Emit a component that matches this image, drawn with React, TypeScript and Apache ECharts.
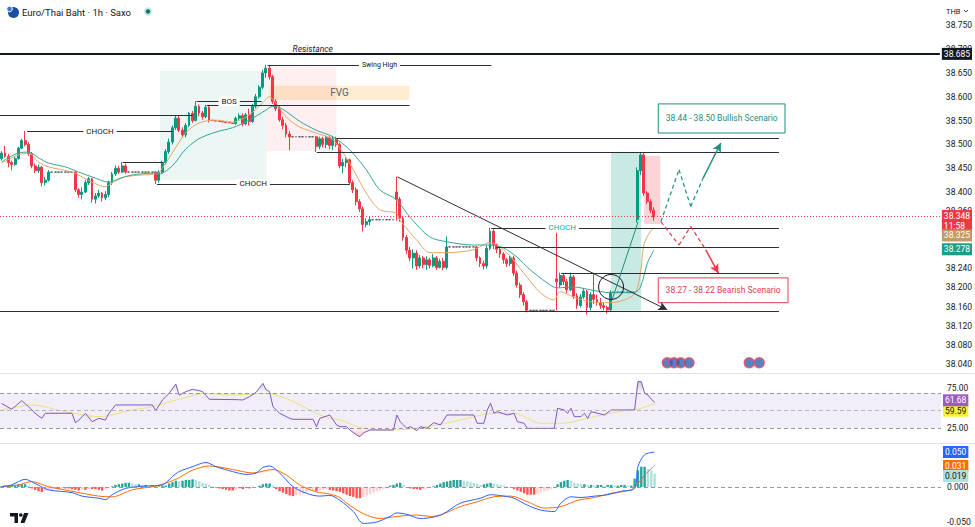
import React, { useEffect, useRef } from "react";
import * as echarts from "echarts";

const FONT = "Roboto, 'Noto Sans', sans-serif";
const SLOTS = 281;

// [slot, open, close, low, high]
const candles: number[][] = [
  [0, 38.470, 38.482, 38.466, 38.486], [1, 38.482, 38.475, 38.472, 38.497], [2, 38.475, 38.462, 38.452, 38.480],
  [3, 38.462, 38.458, 38.446, 38.466], [4, 38.458, 38.470, 38.455, 38.474], [5, 38.470, 38.492, 38.468, 38.495],
  [6, 38.492, 38.508, 38.490, 38.512], [7, 38.508, 38.500, 38.496, 38.528], [8, 38.500, 38.480, 38.476, 38.505],
  [9, 38.480, 38.455, 38.450, 38.484], [10, 38.455, 38.445, 38.440, 38.460], [11, 38.445, 38.452, 38.440, 38.458],
  [12, 38.452, 38.420, 38.412, 38.455], [13, 38.420, 38.425, 38.414, 38.432], [14, 38.425, 38.442, 38.422, 38.446],
  [15, 38.442, 38.442, 38.442, 38.442], [16, 38.442, 38.442, 38.442, 38.442], [17, 38.442, 38.442, 38.442, 38.442],
  [18, 38.442, 38.442, 38.442, 38.442], [19, 38.442, 38.442, 38.442, 38.442], [20, 38.442, 38.442, 38.442, 38.442],
  [21, 38.442, 38.442, 38.442, 38.442], [22, 38.442, 38.405, 38.400, 38.444], [23, 38.405, 38.395, 38.388, 38.408],
  [24, 38.395, 38.400, 38.385, 38.410], [25, 38.400, 38.420, 38.398, 38.425], [26, 38.420, 38.428, 38.415, 38.432],
  [27, 38.428, 38.385, 38.378, 38.430], [28, 38.385, 38.392, 38.376, 38.398], [29, 38.392, 38.398, 38.388, 38.405],
  [30, 38.398, 38.388, 38.380, 38.400], [31, 38.388, 38.395, 38.383, 38.402], [32, 38.395, 38.420, 38.390, 38.424],
  [33, 38.420, 38.438, 38.415, 38.442], [34, 38.438, 38.450, 38.434, 38.456], [35, 38.450, 38.442, 38.438, 38.455],
  [36, 38.442, 38.455, 38.440, 38.463], [37, 38.455, 38.442, 38.438, 38.460], [38, 38.442, 38.442, 38.442, 38.442],
  [39, 38.442, 38.442, 38.442, 38.442], [40, 38.442, 38.442, 38.442, 38.442], [41, 38.442, 38.442, 38.442, 38.442],
  [42, 38.442, 38.442, 38.442, 38.442], [43, 38.442, 38.442, 38.442, 38.442], [44, 38.442, 38.442, 38.442, 38.442],
  [45, 38.442, 38.442, 38.442, 38.442], [46, 38.442, 38.425, 38.417, 38.444], [47, 38.425, 38.442, 38.420, 38.446],
  [48, 38.442, 38.462, 38.438, 38.466], [49, 38.462, 38.485, 38.458, 38.490], [50, 38.485, 38.505, 38.480, 38.512],
  [51, 38.505, 38.535, 38.500, 38.540], [52, 38.535, 38.555, 38.530, 38.560], [53, 38.555, 38.530, 38.526, 38.560],
  [54, 38.530, 38.520, 38.514, 38.536], [55, 38.520, 38.540, 38.515, 38.545], [56, 38.540, 38.565, 38.536, 38.568],
  [57, 38.565, 38.550, 38.545, 38.570], [58, 38.550, 38.580, 38.548, 38.591], [59, 38.580, 38.566, 38.560, 38.584],
  [60, 38.566, 38.558, 38.552, 38.570], [61, 38.558, 38.578, 38.555, 38.583], [62, 38.578, 38.551, 38.546, 38.583],
  [63, 38.551, 38.550, 38.550, 38.551], [64, 38.550, 38.549, 38.549, 38.550], [65, 38.549, 38.548, 38.548, 38.549],
  [66, 38.548, 38.547, 38.547, 38.548], [67, 38.547, 38.546, 38.546, 38.547], [68, 38.546, 38.545, 38.545, 38.546],
  [69, 38.545, 38.544, 38.544, 38.545], [70, 38.544, 38.555, 38.541, 38.558], [71, 38.555, 38.560, 38.550, 38.565],
  [72, 38.560, 38.543, 38.538, 38.565], [73, 38.543, 38.562, 38.540, 38.566], [74, 38.562, 38.548, 38.540, 38.575],
  [75, 38.548, 38.580, 38.545, 38.585], [76, 38.580, 38.600, 38.576, 38.606], [77, 38.600, 38.620, 38.596, 38.624],
  [78, 38.620, 38.650, 38.616, 38.656], [79, 38.650, 38.660, 38.640, 38.667], [80, 38.660, 38.642, 38.636, 38.665],
  [81, 38.642, 38.590, 38.585, 38.646], [82, 38.590, 38.575, 38.570, 38.595], [83, 38.575, 38.552, 38.548, 38.580],
  [84, 38.552, 38.540, 38.532, 38.558], [85, 38.540, 38.522, 38.515, 38.545], [86, 38.522, 38.516, 38.488, 38.528],
  [87, 38.516, 38.516, 38.516, 38.516], [88, 38.516, 38.516, 38.516, 38.516], [89, 38.516, 38.516, 38.516, 38.516],
  [90, 38.516, 38.516, 38.516, 38.516], [91, 38.516, 38.516, 38.516, 38.516], [92, 38.516, 38.516, 38.516, 38.516],
  [93, 38.516, 38.516, 38.516, 38.516], [94, 38.516, 38.496, 38.484, 38.518], [95, 38.496, 38.512, 38.490, 38.516],
  [96, 38.512, 38.500, 38.494, 38.516], [97, 38.500, 38.514, 38.492, 38.518], [98, 38.514, 38.498, 38.490, 38.517],
  [99, 38.498, 38.512, 38.488, 38.518], [100, 38.512, 38.500, 38.495, 38.516], [101, 38.500, 38.455, 38.450, 38.504],
  [102, 38.455, 38.462, 38.440, 38.470], [103, 38.462, 38.468, 38.452, 38.472], [104, 38.468, 38.420, 38.415, 38.470],
  [105, 38.420, 38.405, 38.398, 38.425], [106, 38.405, 38.380, 38.372, 38.410], [107, 38.380, 38.365, 38.358, 38.385],
  [108, 38.365, 38.332, 38.317, 38.370], [109, 38.332, 38.338, 38.326, 38.345], [110, 38.338, 38.342, 38.330, 38.348],
  [111, 38.342, 38.342, 38.342, 38.342], [112, 38.342, 38.342, 38.342, 38.342], [113, 38.342, 38.342, 38.342, 38.342],
  [114, 38.342, 38.342, 38.342, 38.342], [115, 38.342, 38.342, 38.342, 38.342], [116, 38.342, 38.342, 38.342, 38.342],
  [117, 38.342, 38.342, 38.342, 38.342], [118, 38.400, 38.385, 38.340, 38.432], [119, 38.385, 38.345, 38.338, 38.390],
  [120, 38.345, 38.305, 38.298, 38.350], [121, 38.305, 38.278, 38.270, 38.310], [122, 38.278, 38.262, 38.255, 38.285],
  [123, 38.262, 38.272, 38.240, 38.280], [124, 38.272, 38.245, 38.237, 38.278], [125, 38.245, 38.262, 38.240, 38.268],
  [126, 38.262, 38.248, 38.240, 38.266], [127, 38.248, 38.258, 38.237, 38.265], [128, 38.258, 38.246, 38.240, 38.262],
  [129, 38.246, 38.262, 38.242, 38.270], [130, 38.262, 38.242, 38.237, 38.266], [131, 38.242, 38.255, 38.240, 38.260],
  [132, 38.255, 38.242, 38.236, 38.262], [133, 38.242, 38.285, 38.238, 38.307], [134, 38.285, 38.285, 38.285, 38.285],
  [135, 38.285, 38.285, 38.285, 38.285], [136, 38.285, 38.285, 38.285, 38.285], [137, 38.285, 38.285, 38.285, 38.285],
  [138, 38.285, 38.285, 38.285, 38.285], [139, 38.285, 38.285, 38.285, 38.285], [140, 38.285, 38.285, 38.285, 38.285],
  [141, 38.285, 38.285, 38.285, 38.285], [142, 38.285, 38.262, 38.255, 38.287], [143, 38.262, 38.250, 38.243, 38.265],
  [144, 38.250, 38.245, 38.238, 38.256], [145, 38.245, 38.282, 38.240, 38.288], [146, 38.282, 38.318, 38.278, 38.325],
  [147, 38.318, 38.290, 38.280, 38.322], [148, 38.290, 38.280, 38.272, 38.292], [149, 38.280, 38.270, 38.262, 38.285],
  [150, 38.270, 38.258, 38.250, 38.274], [151, 38.258, 38.250, 38.243, 38.262], [152, 38.250, 38.262, 38.245, 38.268],
  [153, 38.262, 38.230, 38.224, 38.266], [154, 38.230, 38.205, 38.200, 38.235], [155, 38.205, 38.185, 38.178, 38.210],
  [156, 38.185, 38.170, 38.162, 38.190], [157, 38.170, 38.152, 38.148, 38.174], [158, 38.152, 38.152, 38.152, 38.152],
  [159, 38.152, 38.152, 38.152, 38.152], [160, 38.152, 38.152, 38.152, 38.152], [161, 38.152, 38.152, 38.152, 38.152],
  [162, 38.152, 38.152, 38.152, 38.152], [163, 38.152, 38.152, 38.152, 38.152], [164, 38.152, 38.152, 38.152, 38.152],
  [165, 38.152, 38.152, 38.152, 38.152], [166, 38.218, 38.212, 38.152, 38.325], [167, 38.205, 38.225, 38.200, 38.231],
  [168, 38.225, 38.212, 38.205, 38.230], [169, 38.212, 38.195, 38.188, 38.218], [170, 38.195, 38.222, 38.192, 38.231],
  [171, 38.222, 38.182, 38.176, 38.226], [172, 38.182, 38.162, 38.155, 38.188], [173, 38.162, 38.180, 38.158, 38.186],
  [174, 38.180, 38.192, 38.176, 38.198], [175, 38.192, 38.158, 38.143, 38.195], [176, 38.158, 38.185, 38.152, 38.190],
  [177, 38.185, 38.175, 38.165, 38.231], [178, 38.175, 38.168, 38.162, 38.185], [179, 38.168, 38.162, 38.155, 38.178],
  [180, 38.162, 38.158, 38.152, 38.168], [181, 38.158, 38.153, 38.145, 38.162], [182, 38.153, 38.190, 38.150, 38.194],
  [183, 38.190, 38.190, 38.190, 38.190], [184, 38.190, 38.190, 38.190, 38.190], [185, 38.190, 38.190, 38.190, 38.190],
  [186, 38.190, 38.190, 38.190, 38.190], [187, 38.190, 38.190, 38.190, 38.190], [188, 38.190, 38.190, 38.190, 38.190],
  [189, 38.190, 38.190, 38.190, 38.190], [190, 38.342, 38.445, 38.336, 38.452], [191, 38.445, 38.478, 38.436, 38.484],
  [192, 38.478, 38.398, 38.392, 38.482], [193, 38.398, 38.380, 38.375, 38.402], [194, 38.380, 38.362, 38.356, 38.385],
  [195, 38.362, 38.348, 38.340, 38.368],
];

const emaFast: number[][] = [
  [0, 38.461], [5, 38.478], [8, 38.482], [11, 38.463], [14, 38.453], [21, 38.442], [27, 38.421], [31, 38.411],
  [33, 38.419], [37, 38.432], [46, 38.438], [47, 38.440], [51, 38.482], [55, 38.524], [59, 38.545], [64, 38.551],
  [69, 38.547], [74, 38.562], [78, 38.587], [80, 38.600], [82, 38.587], [85, 38.558], [89, 38.537], [94, 38.524],
  [99, 38.510], [104, 38.461], [109, 38.398], [113, 38.363], [118, 38.356], [119, 38.342], [124, 38.300],
  [128, 38.273], [133, 38.273], [141, 38.279], [146, 38.294], [151, 38.273], [156, 38.231], [161, 38.189],
  [165, 38.174], [167, 38.191], [171, 38.180], [176, 38.170], [182, 38.168], [189, 38.185], [191, 38.231],
  [192, 38.290], [194, 38.318], [195, 38.325],
];

const emaSlow: number[][] = [
  [0, 38.463], [2, 38.472], [5, 38.482], [8, 38.484], [11, 38.472], [14, 38.461], [19, 38.453], [23, 38.442],
  [27, 38.432], [32, 38.421], [35, 38.428], [39, 38.436], [46, 38.440], [47, 38.438], [51, 38.455], [55, 38.490],
  [59, 38.512], [64, 38.526], [69, 38.535], [74, 38.551], [79, 38.572], [81, 38.580], [84, 38.574], [89, 38.549],
  [94, 38.530], [99, 38.516], [104, 38.489], [109, 38.447], [113, 38.405], [118, 38.384], [122, 38.348],
  [128, 38.306], [133, 38.296], [141, 38.289], [146, 38.289], [150, 38.283], [154, 38.264], [158, 38.237],
  [163, 38.210], [166, 38.199], [171, 38.201], [176, 38.195], [182, 38.189], [189, 38.189], [191, 38.201],
  [193, 38.250], [195, 38.278],
];

const rsiLine: number[][] = [
  [0, 60], [3, 51.7], [6, 64], [8, 55.5], [10, 46], [12, 38.8], [13, 46], [21, 46], [22, 32.6], [23, 36], [25, 46],
  [27, 34], [29, 38.8], [31, 36.4], [32, 46], [34, 57.9], [45, 57.9], [46, 49.8], [48, 65], [50, 74.5], [52, 87.9],
  [53, 72], [55, 76.9], [57, 80.2], [59, 78.3], [60, 76.9], [62, 66], [70, 65.5], [72, 65], [74, 69.7], [76, 76],
  [78, 88.8], [79, 79.3], [80, 76.9], [81, 55.5], [83, 46], [86, 38.8], [87, 37.4], [93, 37.4], [94, 26.9],
  [95, 38.8], [98, 43.6], [100, 29.3], [101, 26.9], [103, 26.9], [104, 22.1], [106, 15], [107, 12.6], [108, 18],
  [110, 22.1], [117, 22.1], [118, 43.6], [119, 34], [120, 29.3], [121, 24.5], [122, 26.9], [124, 21.2], [125, 26.9],
  [127, 24.5], [129, 32.6], [131, 29.3], [133, 43.6], [141, 43.6], [142, 31.7], [144, 31.7], [145, 50.7],
  [146, 60.3], [147, 46], [148, 48.3], [151, 43.6], [153, 46], [154, 34], [156, 31.7], [157, 24.5], [165, 24.5],
  [166, 53.1], [168, 50.7], [169, 46], [170, 53.1], [171, 41.2], [173, 41.2], [174, 46], [175, 38.8], [176, 48.3],
  [178, 46], [180, 43.6], [182, 50.7], [189, 50.7], [190, 91.2], [191, 91.2], [192, 74.5], [193, 72], [194, 66],
  [195, 61.68],
];

const rsiMa: number[][] = [
  [0, 50.7], [9, 57.9], [19, 48.3], [29, 41.2], [39, 50.7], [45, 55.5], [54, 67.4], [61, 74.5], [69, 72],
  [79, 74.5], [86, 65], [94, 46], [98, 38.8], [101, 36.4], [108, 24.5], [117, 22.1], [127, 26.9], [137, 36.4],
  [147, 46], [153, 46], [161, 31.7], [167, 31.7], [177, 41.2], [187, 50.7], [190, 52], [195, 59.59],
];

const macdLine: number[][] = [
  [0, 0.0005], [3, 0.003], [7, 0.011], [10, 0.005], [14, -0.004], [21, -0.008], [24, -0.013], [29, -0.016],
  [31, -0.018], [33, -0.011], [37, -0.002], [43, 0.0014], [48, 0.003], [51, 0.015], [53, 0.022], [57, 0.029],
  [61, 0.035], [64, 0.029], [69, 0.022], [73, 0.018], [76, 0.020], [78, 0.028], [80, 0.030], [83, 0.020],
  [87, 0.0005], [91, -0.009], [95, -0.013], [98, -0.012], [101, -0.019], [105, -0.035], [108, -0.052],
  [112, -0.050], [116, -0.042], [118, -0.037], [121, -0.039], [125, -0.045], [129, -0.043], [132, -0.038],
  [137, -0.023], [143, -0.016], [146, -0.011], [150, -0.013], [153, -0.016], [157, -0.026], [161, -0.033],
  [165, -0.035], [167, -0.023], [170, -0.014], [173, -0.015], [177, -0.013], [181, -0.011], [185, -0.006],
  [189, -0.002], [190, 0.029], [192, 0.046], [195, 0.050],
];

const signalLine: number[][] = [
  [0, 0.0005], [5, 0.003], [9, 0.0076], [14, 0.0005], [22, -0.007], [29, -0.013], [33, -0.014], [39, -0.004],
  [46, 0.0014], [52, 0.011], [57, 0.024], [62, 0.030], [69, 0.025], [75, 0.020], [81, 0.025], [85, 0.017],
  [89, 0.003], [94, -0.007], [98, -0.010], [101, -0.015], [103, -0.023], [108, -0.038], [113, -0.045],
  [118, -0.042], [124, -0.040], [128, -0.042], [131, -0.040], [137, -0.028], [142, -0.021], [147, -0.014],
  [152, -0.013], [157, -0.021], [162, -0.030], [167, -0.028], [172, -0.019], [177, -0.015], [182, -0.009],
  [188, -0.004], [190, 0.005], [192, 0.017], [195, 0.031],
];

const histValues: number[] = [
  0.001, 0.002, 0.002, 0.003, 0.003, 0.004, 0.004, 0.004, 0.002, -0.002,
  -0.004, -0.006, -0.007, -0.006, -0.005, -0.004, -0.003, -0.003, -0.002, -0.002,
  -0.002, -0.003, -0.004, -0.005, -0.004, -0.004, -0.003, -0.003, -0.003, -0.004,
  -0.005, -0.004, -0.002, 0.001, 0.003, 0.004, 0.005, 0.006, 0.006, 0.005,
  0.004, 0.004, 0.003, 0.003, 0.002, 0.002, 0.001, 0.001, 0.002, 0.002,
  0.005, 0.007, 0.009, 0.008, 0.009, 0.010, 0.010, 0.011, 0.010, 0.008,
  0.006, 0.005, 0.003, 0.001, -0.001, -0.002, -0.003, -0.004, -0.005, -0.005,
  -0.004, -0.003, -0.003, -0.002, -0.002, -0.001, 0.000, 0.002, 0.004, 0.005,
  0.005, 0.002, -0.003, -0.006, -0.008, -0.010, -0.012, -0.013, -0.012, -0.011,
  -0.010, -0.008, -0.006, -0.005, -0.006, -0.005, -0.004, -0.003, -0.004, -0.005,
  -0.006, -0.007, -0.009, -0.011, -0.013, -0.014, -0.016, -0.016, -0.014, -0.012,
  -0.010, -0.008, -0.006, -0.005, -0.003, -0.002, 0.002, 0.003, 0.005, 0.006,
  0.003, -0.001, -0.002, -0.003, -0.003, -0.004, -0.003, -0.002, -0.001, 0.001,
  0.003, 0.005, 0.007, 0.008, 0.009, 0.010, 0.010, 0.010, 0.009, 0.008,
  0.007, 0.006, 0.005, 0.003, 0.004, 0.005, 0.006, 0.005, 0.004, 0.003,
  0.002, 0.001, -0.001, -0.003, -0.005, -0.007, -0.009, -0.011, -0.011, -0.011,
  -0.010, -0.008, -0.006, -0.005, -0.003, -0.002, 0.004, 0.007, 0.009, 0.010,
  0.009, 0.006, 0.005, 0.004, 0.004, 0.003, 0.003, 0.002, 0.003, 0.003,
  0.002, 0.003, 0.003, 0.002, 0.002, 0.003, 0.003, 0.002, 0.002, 0.012,
  0.024, 0.029, 0.029, 0.026, 0.024, 0.019,
];

const priceTicks = [38.04, 38.08, 38.12, 38.16, 38.2, 38.24, 38.36, 38.4, 38.45, 38.5, 38.55, 38.6, 38.65, 38.7, 38.75];
const rsiTicks = [25, 75];
const macdTicks = [-0.05, 0];
const eventSlots = [199, 201, 203, 205.5, 223.5, 226.5];
const eventLevel = 38.042;

const resistance = 38.685;
const lastPrice = 38.348;
const lastFast = 38.325;
const lastSlow = 38.278;
const lastRsi = 61.68;
const lastRsiMa = 59.59;
const lastMacd = 0.05;
const lastSignal = 0.031;
const lastHist = 0.019;

// drawing levels: [fromSlot, toSlot, price, label]
const structureLines: [number, number, number, string][] = [
  [-0.5, 57.1, 38.562, ""],
  [7.6, 51.2, 38.528, "CHOCH"],
  [36.2, 48.2, 38.463, ""],
  [46.4, 104, 38.417, "CHOCH"],
  [58.3, 77.7, 38.591, "BOS"],
  [61.3, 121.9, 38.583, ""],
  [79.5, 146.4, 38.667, "Swing High"],
  [100.1, 232.4, 38.514, ""],
  [94.2, 232.4, 38.484, ""],
  [188.8, 232.4, 38.325, ""],
  [147.9, 232.4, 38.285, ""],
  [167.3, 232.4, 38.229, ""],
  [-0.5, 232.4, 38.151, ""],
];
const chochTeal: [number, number, number] = [146.4, 188.8, 38.325];
const trendLine = [[118.3, 38.432], [199, 38.153]];
const impulseLine = [[182.5, 38.174], [190.3, 38.338]];
const bullPath = [[197.1, 38.338], [202.5, 38.447], [206.0, 38.37], [209.7, 38.429], [215.0, 38.503]];
const bearPath = [[197.1, 38.338], [202.5, 38.289], [206.0, 38.328], [210.5, 38.279], [214.3, 38.23]];
const zones = {
  demand: [[47.3, 38.654], [79.2, 38.426]],
  supply: [[79.2, 38.663], [100.1, 38.486]],
  fvg: [[80.1, 38.623], [121.9, 38.593]],
  breakout: [[182.2, 38.482], [191.2, 38.151]],
  pullback: [[192.1, 38.476], [196.9, 38.333]],
  bullBox: [[196.3, 38.585], [234.2, 38.524]],
  bearBox: [[196.3, 38.22], [235.1, 38.168]],
};
const circleAt = [182.2, 38.201];

const UP = "#089981";
const DOWN = "#F23645";
const LINE = "#2A2E39";
const TEAL = "#1E8E7E";
const CLEAR = "rgba(0,0,0,0)";

function seg(a: number[], b: number[], lineStyle: any, label: any = { show: false }, endSymbol = "none") {
  return [
    { coord: a, symbol: "none", lineStyle, label },
    { coord: b, symbol: endSymbol, symbolSize: [7, 9], lineStyle, label },
  ];
}

function badge(text: string, bg: string, fg: string, dy = 0) {
  return {
    show: true,
    position: "end",
    distance: 2,
    formatter: text,
    backgroundColor: bg,
    color: fg,
    padding: [1, 2, 1, 2],
    fontSize: 8.5,
    lineHeight: 10,
    fontFamily: FONT,
    offset: [0, dy],
  };
}

const hiddenLine = { color: CLEAR, width: 1, type: "solid" as const };

function buildOption() {
  const cats = Array.from({ length: SLOTS }, (_, i) => String(i));
  const W = 941;

  const candleData = candles.map((c) => {
    const flat = c[3] === c[4];
    if (flat) {
      const g = "#50535E";
      return { value: c, itemStyle: { color: g, color0: g, borderColor: g, borderColor0: g } };
    }
    return { value: c };
  });

  const histData = histValues.map((v, i) => {
    const pv = i > 0 ? histValues[i - 1] : 0;
    let color;
    if (v >= 0) color = v >= pv ? "#26A69A" : "#B2DFDB";
    else color = v <= pv ? "#FF5252" : "#FFCDD2";
    return { value: [i, v], itemStyle: { color } };
  });

  const solid = (color: string, width = 1) => ({ color, width, type: "solid" as const });
  const dashed = (color: string, width = 1.2) => ({ color, width, type: [4, 3] });
  const midLabel = (text: string, color: string, size = 8) => ({
    show: true,
    position: "insideMiddle",
    distance: 0,
    verticalAlign: "middle",
    formatter: text,
    color,
    fontSize: size,
    fontFamily: FONT,
    backgroundColor: "#fff",
    padding: [1, 3],
  });

  const lines: any[] = [];
  structureLines.forEach(([a, b, p, text]) => {
    lines.push(seg([a, p], [b, p], solid(LINE, 1), text ? midLabel(text, "#131722", text === "Swing High" ? 7 : 8) : { show: false }));
  });
  lines.push(seg([chochTeal[0], chochTeal[2]], [chochTeal[1], chochTeal[2]], solid(LINE, 1), midLabel("CHOCH", "#22AB94", 8)));
  lines.push(seg(trendLine[0], trendLine[1], solid(LINE, 1), { show: false }, "arrow"));
  lines.push(seg(impulseLine[0], impulseLine[1], solid(TEAL, 1)));
  for (let k = 0; k < 3; k++) lines.push(seg(bullPath[k], bullPath[k + 1], dashed(TEAL)));
  lines.push(seg(bullPath[3], bullPath[4], solid(TEAL, 1.5), { show: false }, "arrow"));
  for (let k = 0; k < 3; k++) lines.push(seg(bearPath[k], bearPath[k + 1], dashed(DOWN)));
  lines.push(seg(bearPath[3], bearPath[4], solid(DOWN, 1.5), { show: false }, "arrow"));
  lines.push(
    seg([83, resistance], [103, resistance], hiddenLine, {
      show: true,
      position: "insideMiddleTop",
      formatter: "Resistance",
      fontStyle: "italic",
      color: "#131722",
      fontSize: 8.5,
      fontFamily: FONT,
      distance: 3,
    })
  );
  lines.push({ yAxis: resistance, lineStyle: solid("#131722", 2), label: badge(resistance.toFixed(3), "#131722", "#fff") });
  lines.push({
    yAxis: lastPrice,
    lineStyle: { color: DOWN, width: 1, type: [1, 2] },
    label: badge(lastPrice.toFixed(3) + "\n11:58", DOWN, "#fff", 5),
  });
  lines.push({ yAxis: lastFast, lineStyle: hiddenLine, label: badge(lastFast.toFixed(3), "#C49A60", "#fff", 10) });
  lines.push({ yAxis: lastSlow, lineStyle: hiddenLine, label: badge(lastSlow.toFixed(3), "#1E9C87", "#fff", 0) });

  const area = (pts: number[][], itemStyle: any, label: any = { show: false }) => [
    { coord: pts[0], itemStyle, label },
    { coord: pts[1] },
  ];

  const markAreas = [
    area(zones.demand, { color: "rgba(8,153,129,0.08)" }),
    area(zones.supply, { color: "rgba(242,54,69,0.08)" }),
    area(zones.fvg, { color: "rgba(255,152,0,0.18)" }, {
      show: true, position: "inside", formatter: "FVG", color: "#5d606b", fontSize: 10, fontFamily: FONT,
    }),
    area(zones.breakout, { color: "rgba(8,153,129,0.22)" }),
    area(zones.pullback, { color: "rgba(242,54,69,0.22)" }),
    area(zones.bullBox, { color: "#ffffff", borderColor: TEAL, borderWidth: 1 }, {
      show: true, position: "inside", formatter: "38.44 - 38.50 Bullish Scenario", color: TEAL, fontSize: 8.5, fontFamily: FONT,
    }),
    area(zones.bearBox, { color: "#ffffff", borderColor: "#E04050", borderWidth: 1 }, {
      show: true, position: "inside", formatter: "38.27 - 38.22 Bearish Scenario", color: "#E04050", fontSize: 8.5, fontFamily: FONT,
    }),
  ];

  const axisLbl = (vals: number[], digits: number) => ({
    customValues: vals,
    formatter: (v: number) => v.toFixed(digits),
    color: "#131722",
    fontSize: 8.5,
    fontFamily: FONT,
    margin: 6,
  });
  const rsiAxisLbl = {
    ...axisLbl(rsiTicks, 2),
    formatter: (v: number) => (v === 75 ? `{up|${v.toFixed(2)}}` : v.toFixed(2)),
    rich: { up: { padding: [0, 0, 9, 0], fontSize: 8.5, color: "#131722", fontFamily: FONT } },
  };
  const yBase = {
    type: "value" as const,
    position: "right" as const,
    splitLine: { show: false },
    axisLine: { show: false },
    axisTick: { show: false },
  };

  const hidden = { show: false };

  return {
    animation: false,
    backgroundColor: "#ffffff",
    grid: [
      { left: 0, top: 0, width: W, height: 373 },
      { left: 0, top: 374, width: W, height: 68 },
      { left: 0, top: 444, width: W, height: 83 },
    ],
    xAxis: [
      { type: "category", gridIndex: 0, data: cats, ...hidden },
      { type: "value", gridIndex: 0, min: -0.5, max: SLOTS - 0.5, ...hidden },
      { type: "value", gridIndex: 1, min: -0.5, max: SLOTS - 0.5, ...hidden },
      { type: "category", gridIndex: 2, data: cats, ...hidden },
      { type: "value", gridIndex: 2, min: -0.5, max: SLOTS - 0.5, ...hidden },
    ],
    yAxis: [
      { ...yBase, gridIndex: 0, min: 38.0205, max: 38.803, axisLabel: axisLbl(priceTicks, 3) },
      { ...yBase, gridIndex: 1, min: 5, max: 102.1, axisLabel: rsiAxisLbl },
      { ...yBase, gridIndex: 2, min: -0.0571, max: 0.0614, axisLabel: axisLbl(macdTicks, 3) },
    ],
    series: [
      {
        name: "zones",
        type: "line",
        xAxisIndex: 1,
        yAxisIndex: 0,
        data: [[-10, 38.5]],
        showSymbol: false,
        lineStyle: { width: 0 },
        z: 1,
        markArea: { silent: true, data: markAreas },
      },
      {
        name: "price",
        type: "candlestick",
        xAxisIndex: 0,
        yAxisIndex: 0,
        dimensions: ["slot", "open", "close", "low", "high"],
        encode: { x: "slot", y: ["open", "close", "low", "high"] },
        data: candleData,
        barWidth: 2.4,
        z: 3,
        itemStyle: { color: UP, color0: DOWN, borderColor: UP, borderColor0: DOWN, borderWidth: 1 },
      },
      {
        name: "ema fast",
        type: "line",
        xAxisIndex: 1,
        yAxisIndex: 0,
        data: emaFast,
        showSymbol: false,
        smooth: 0.3,
        lineStyle: { color: "#E3A766", width: 1 },
        z: 4,
      },
      {
        name: "ema slow",
        type: "line",
        xAxisIndex: 1,
        yAxisIndex: 0,
        data: emaSlow,
        showSymbol: false,
        smooth: 0.3,
        lineStyle: { color: "#3AA396", width: 1 },
        z: 4,
      },
      {
        name: "drawings",
        type: "line",
        xAxisIndex: 1,
        yAxisIndex: 0,
        data: [[-10, 38.5]],
        showSymbol: false,
        lineStyle: { width: 0 },
        z: 5,
        markLine: { silent: true, symbol: ["none", "none"], label: { show: false }, data: lines },
        markPoint: {
          silent: true,
          data: [
            {
              coord: circleAt,
              symbol: "circle",
              symbolSize: 25,
              itemStyle: { color: CLEAR, borderColor: "#131722", borderWidth: 1 },
              label: { show: false },
            },
          ],
        },
      },
      {
        name: "events",
        type: "scatter",
        xAxisIndex: 1,
        yAxisIndex: 0,
        data: eventSlots.map((s) => [s, eventLevel]),
        symbolSize: 10,
        itemStyle: { color: "#2F5FB8", borderColor: "#E8505B", borderWidth: 1.5 },
        z: 6,
      },
      // RSI
      {
        name: "rsi ob",
        type: "line",
        xAxisIndex: 2,
        yAxisIndex: 1,
        data: rsiLine.map(([i, v]) => [i, Math.max(v, 75)]),
        showSymbol: false,
        lineStyle: { width: 0 },
        areaStyle: {
          origin: 75,
          color: new echarts.graphic.LinearGradient(0, 0, 0, 1, [
            { offset: 0, color: "rgba(120,123,134,0.55)" },
            { offset: 1, color: "rgba(120,123,134,0.05)" },
          ]),
        },
        z: 2,
      },
      {
        name: "rsi os",
        type: "line",
        xAxisIndex: 2,
        yAxisIndex: 1,
        data: rsiLine.map(([i, v]) => [i, Math.min(v, 25)]),
        showSymbol: false,
        lineStyle: { width: 0 },
        areaStyle: {
          origin: 25,
          color: new echarts.graphic.LinearGradient(0, 0, 0, 1, [
            { offset: 0, color: "rgba(242,54,69,0.05)" },
            { offset: 1, color: "rgba(242,54,69,0.45)" },
          ]),
        },
        z: 2,
      },
      {
        name: "rsi",
        type: "line",
        xAxisIndex: 2,
        yAxisIndex: 1,
        data: rsiLine,
        showSymbol: false,
        lineStyle: { color: "#7E57C2", width: 1 },
        z: 4,
        markArea: {
          silent: true,
          data: [[{ coord: [-0.5, 75], itemStyle: { color: "rgba(126,87,194,0.1)" } }, { coord: [SLOTS - 0.5, 25] }]],
        },
        markLine: {
          silent: true,
          symbol: ["none", "none"],
          label: { show: false },
          data: [
            { yAxis: 75, lineStyle: { color: "#9598A1", type: [4, 3], width: 1 } },
            { yAxis: 50, lineStyle: { color: "#B2B5BE", type: [4, 3], width: 1 } },
            { yAxis: 25, lineStyle: { color: "#9598A1", type: [4, 3], width: 1 } },
            { yAxis: lastRsiMa, lineStyle: hiddenLine, label: badge(lastRsiMa.toFixed(2), "#F2F23A", "#131722", 7) },
            { yAxis: lastRsi, lineStyle: hiddenLine, label: badge(lastRsi.toFixed(2), "#9C5CC0", "#fff", -2) },
          ],
        },
      },
      {
        name: "rsi ma",
        type: "line",
        xAxisIndex: 2,
        yAxisIndex: 1,
        data: rsiMa,
        showSymbol: false,
        smooth: 0.3,
        lineStyle: { color: "#E8E27A", width: 1 },
        z: 3,
      },
      // MACD
      {
        name: "hist",
        type: "bar",
        xAxisIndex: 3,
        yAxisIndex: 2,
        data: histData,
        barWidth: 2.4,
        z: 2,
      },
      {
        name: "macd",
        type: "line",
        xAxisIndex: 4,
        yAxisIndex: 2,
        data: macdLine,
        showSymbol: false,
        smooth: 0.3,
        lineStyle: { color: "#2962FF", width: 1 },
        z: 4,
        markLine: {
          silent: true,
          symbol: ["none", "none"],
          label: { show: false },
          data: [
            { yAxis: 0, lineStyle: { color: "#9598A1", type: [4, 3], width: 1 } },
            { yAxis: lastMacd, lineStyle: hiddenLine, label: badge(lastMacd.toFixed(3), "#2962FF", "#fff", 0) },
            { yAxis: lastSignal, lineStyle: hiddenLine, label: badge(lastSignal.toFixed(3), "#FF6D00", "#fff", 0) },
            { yAxis: lastHist, lineStyle: hiddenLine, label: badge(lastHist.toFixed(3), "#B2DFDB", "#131722", 3) },
          ],
        },
      },
      {
        name: "signal",
        type: "line",
        xAxisIndex: 4,
        yAxisIndex: 2,
        data: signalLine,
        showSymbol: false,
        smooth: 0.3,
        lineStyle: { color: "#FF6D00", width: 1 },
        z: 3,
      },
    ],
    graphic: [
      { type: "line", shape: { x1: 0, y1: 373.5, x2: 975, y2: 373.5 }, style: { stroke: "#E0E3EB", lineWidth: 1 }, z: 20 },
      { type: "line", shape: { x1: 0, y1: 443.5, x2: 975, y2: 443.5 }, style: { stroke: "#E0E3EB", lineWidth: 1 }, z: 20 },
      { type: "circle", shape: { cx: 13.5, cy: 12.5, r: 5.5 }, style: { fill: "#1D4F9E" }, z: 20 },
      { type: "circle", shape: { cx: 9.5, cy: 9, r: 2.8 }, style: { fill: "#3C7BD8", stroke: "#fff", lineWidth: 1 }, z: 21 },
      {
        type: "text",
        x: 22,
        y: 12,
        style: { text: "Euro/Thai Baht · 1h · Saxo", fill: "#131722", font: `9.5px ${FONT}`, verticalAlign: "middle" },
        z: 20,
      },
      { type: "circle", shape: { cx: 148, cy: 11.5, r: 4.2 }, style: { fill: "rgba(8,153,129,0.22)" }, z: 20 },
      { type: "circle", shape: { cx: 148, cy: 11.5, r: 2.2 }, style: { fill: "#0B7A68" }, z: 21 },
      {
        type: "text",
        x: 946,
        y: 11,
        style: { text: "THB", fill: "#131722", font: `7.5px ${FONT}`, verticalAlign: "middle" },
        z: 20,
      },
      { type: "polyline", shape: { points: [[964, 10], [966, 12], [968, 10]] }, style: { stroke: "#131722", lineWidth: 0.8, fill: "none" }, z: 20 },
      {
        type: "polygon",
        shape: { points: [[10, 513], [18, 513], [18, 523], [14.5, 523], [14.5, 516.5], [10, 516.5]] },
        style: { fill: "#131722" },
        z: 20,
      },
      { type: "circle", shape: { cx: 20.8, cy: 515, r: 1.8 }, style: { fill: "#131722" }, z: 20 },
      { type: "polygon", shape: { points: [[24, 513], [28.5, 513], [24.5, 523], [20.5, 523]] }, style: { fill: "#131722" }, z: 20 },
    ],
  };
}

export default function App() {
  const ref = useRef<HTMLDivElement>(null);
  useEffect(() => {
    if (!ref.current) return;
    const chart = echarts.init(ref.current, undefined, { renderer: "svg" });
    chart.setOption(buildOption() as any);
    return () => chart.dispose();
  }, []);
  return (
    <div
      ref={ref}
      style={{ position: "fixed", left: 0, top: 0, width: 975, height: 527, background: "#fff" }}
    />
  );
}
